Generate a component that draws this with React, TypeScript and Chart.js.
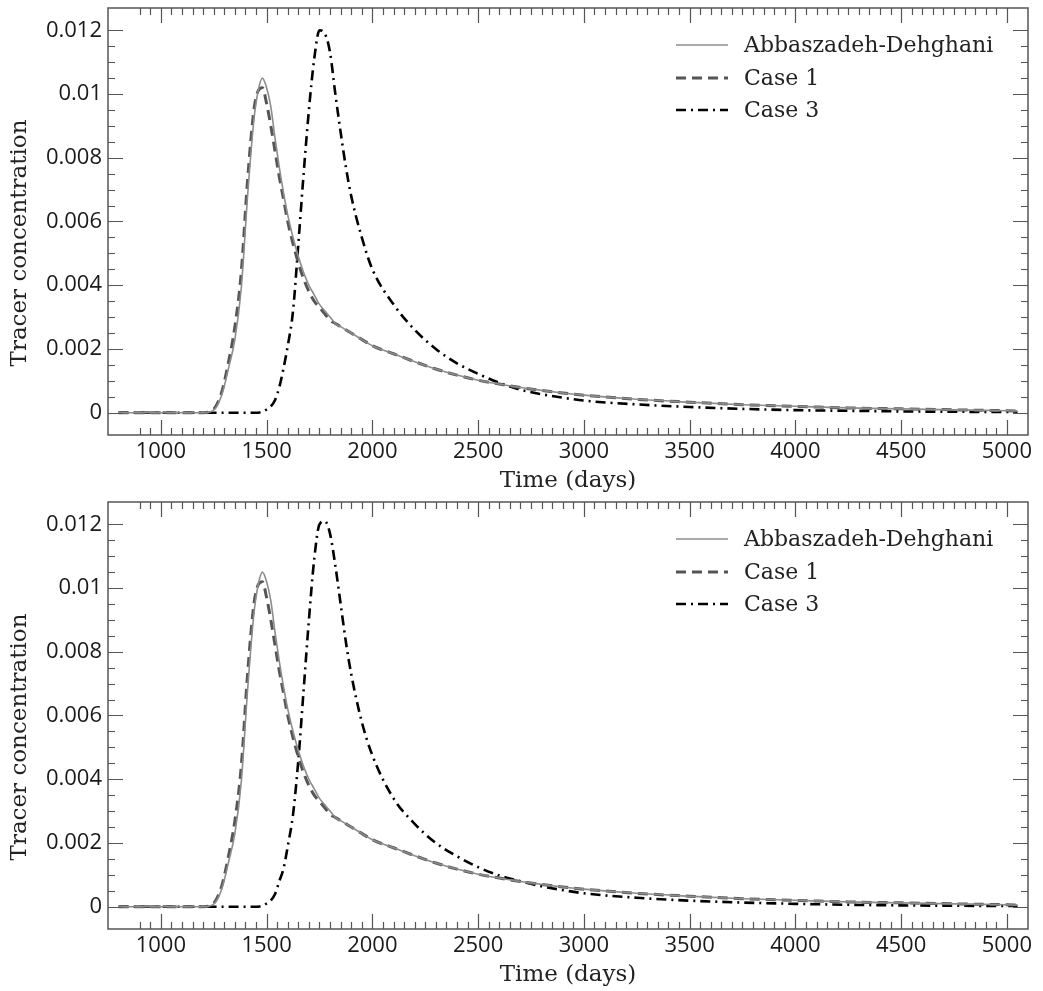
import React, { useEffect, useRef } from "react";
import { Chart, registerables } from "chart.js";
Chart.register(...registerables);

const days = [800, 900, 1000, 1100, 1200, 1230, 1260, 1290, 1320, 1350, 1380, 1410, 1440, 1460, 1480, 1500, 1520, 1540, 1560, 1580, 1600, 1625, 1650, 1675, 1700, 1725, 1750, 1775, 1800, 1825, 1850, 1875, 1900, 1950, 2000, 2100, 2200, 2300, 2400, 2500, 2600, 2700, 2800, 2900, 3000, 3250, 3500, 3750, 4000, 4250, 4500, 4750, 5000, 5050];

const abbasValues = [0, 0, 0, 0, 0, 0.00002, 0.00015, 0.0006, 0.0014, 0.0023, 0.0039, 0.0068, 0.0092, 0.0101, 0.0105, 0.0102, 0.0096, 0.0086, 0.0077, 0.0069, 0.0062, 0.0055, 0.0049, 0.0044, 0.004, 0.0037, 0.0034, 0.0032, 0.003, 0.0028, 0.0027, 0.0026, 0.0025, 0.0023, 0.0021, 0.00185, 0.0016, 0.00137, 0.00118, 0.00102, 0.0009, 0.00079, 0.0007, 0.00062, 0.00055, 0.00042, 0.00033, 0.00025, 0.0002, 0.00015, 0.00012, 0.00009, 0.00006, 0.00005];

const case1Values = [0, 0, 0, 0, 0, 0.00003, 0.0002, 0.0007, 0.0016, 0.0027, 0.0044, 0.0073, 0.0095, 0.0101, 0.0102, 0.0097, 0.009, 0.0082, 0.0074, 0.0067, 0.006, 0.0053, 0.0047, 0.0042, 0.0038, 0.0035, 0.0033, 0.0031, 0.0029, 0.0028, 0.0027, 0.0026, 0.0025, 0.0023, 0.0021, 0.00185, 0.0016, 0.00137, 0.00118, 0.00102, 0.0009, 0.00079, 0.0007, 0.00062, 0.00055, 0.00042, 0.00033, 0.00025, 0.0002, 0.00015, 0.00012, 0.00009, 0.00006, 0.00005];

const case3TopValues = [0, 0, 0, 0, 0, 0, 0, 0, 0, 0, 0, 0, 0, 0, 0.00003, 0.0001, 0.0002, 0.0004, 0.0008, 0.0014, 0.0021, 0.0032, 0.0053, 0.0075, 0.0095, 0.0111, 0.012, 0.0119, 0.0113, 0.01, 0.0088, 0.0077, 0.0068, 0.0055, 0.0045, 0.0034, 0.0026, 0.002, 0.00155, 0.00122, 0.00094, 0.00072, 0.00058, 0.00047, 0.00038, 0.00026, 0.00018, 0.00012, 0.00008, 0.00006, 0.00004, 0.00003, 0.00002, 0.00002];

const case3BottomValues = [0, 0, 0, 0, 0, 0, 0, 0, 0, 0, 0, 0, 0, 0, 0.00003, 0.0001, 0.0002, 0.0004, 0.0008, 0.0012, 0.0019, 0.0029, 0.0046, 0.0068, 0.009, 0.0109, 0.012, 0.0121, 0.0117, 0.0107, 0.0095, 0.0083, 0.0073, 0.0058, 0.00475, 0.0034, 0.0026, 0.002, 0.00158, 0.00124, 0.00098, 0.0008, 0.00064, 0.00052, 0.00042, 0.00028, 0.00019, 0.00013, 0.00009, 0.00006, 0.00004, 0.00003, 0.00002, 0.00002];

const xTickValues = [1000, 1500, 2000, 2500, 3000, 3500, 4000, 4500, 5000];
const yTickValues = [0, 0.002, 0.004, 0.006, 0.008, 0.01, 0.012];
const yTickLabels = ["0", "0.002", "0.004", "0.006", "0.008", "0.01", "0.012"];
const xTitle = "Time (days)";
const yTitle = "Tracer concentration";
const seriesLabels = ["Abbaszadeh-Dehghani", "Case 1", "Case 3"];

const seriesStyles = [
  { color: "#8c8c8c", width: 1.6, dash: [] as number[] },
  { color: "#555555", width: 3, dash: [10, 6] },
  { color: "#000000", width: 2.6, dash: [10, 5, 2, 5] },
];

const W = 1043;
const H = 494;

const framePlugin = {
  id: "frameTicks",
  afterDraw(chart: any) {
    const { ctx, chartArea, scales } = chart;
    const { left, right, top, bottom } = chartArea;
    const xs = scales.x;
    const ys = scales.y;
    ctx.save();
    ctx.strokeStyle = "#555";
    ctx.lineWidth = 1.5;
    ctx.setLineDash([]);
    ctx.strokeRect(left, top, right - left, bottom - top);
    ctx.lineWidth = 1.2;
    for (let v = 900; v <= 5000; v += 50) {
      const px = Math.round(xs.getPixelForValue(v)) + 0.5;
      const len = v % 500 === 0 ? 15 : 7;
      ctx.beginPath();
      ctx.moveTo(px, bottom);
      ctx.lineTo(px, bottom - len);
      ctx.moveTo(px, top);
      ctx.lineTo(px, top + len);
      ctx.stroke();
    }
    for (let i = 0; i <= 24; i++) {
      const py = Math.round(ys.getPixelForValue(i * 0.0005)) + 0.5;
      const len = i % 4 === 0 ? 15 : 7;
      ctx.beginPath();
      ctx.moveTo(left, py);
      ctx.lineTo(left + len, py);
      ctx.moveTo(right, py);
      ctx.lineTo(right - len, py);
      ctx.stroke();
    }
    // axis titles
    ctx.fillStyle = "#222";
    ctx.font = "23px 'DejaVu Serif'";
    ctx.textAlign = "center";
    ctx.textBaseline = "middle";
    ctx.fillText(xTitle, (left + right) / 2, bottom + 46);
    ctx.save();
    ctx.translate(20, 243);
    ctx.rotate(-Math.PI / 2);
    ctx.fillText(yTitle, 0, 0);
    ctx.restore();
    // legend
    ctx.font = "22px 'DejaVu Serif'";
    ctx.textAlign = "left";
    const rows = [37, 70, 102];
    seriesLabels.forEach((lab, i) => {
      const st = seriesStyles[i];
      const y = top + rows[i];
      ctx.strokeStyle = st.color;
      ctx.lineWidth = st.width;
      ctx.setLineDash(st.dash);
      ctx.beginPath();
      ctx.moveTo(right - 352, y);
      ctx.lineTo(right - 300, y);
      ctx.stroke();
      ctx.setLineDash([]);
      ctx.fillText(lab, right - 284, y + 1);
    });
    ctx.restore();
  },
};

function Panel({ case3 }: { case3: number[] }) {
  const ref = useRef<HTMLCanvasElement | null>(null);
  useEffect(() => {
    if (!ref.current) return;
    const series = [abbasValues, case1Values, case3];
    const chart = new Chart(ref.current, {
      type: "line",
      data: {
        datasets: series.map((vals, i) => ({
          label: seriesLabels[i],
          data: days.map((d, j) => ({ x: d, y: vals[j] })),
          borderColor: seriesStyles[i].color,
          borderWidth: seriesStyles[i].width,
          borderDash: seriesStyles[i].dash,
          pointRadius: 0,
          fill: false,
          cubicInterpolationMode: "monotone" as const,
        })),
      },
      options: {
        responsive: false,
        animation: false,
        devicePixelRatio: 1,
        layout: { padding: { top: 8, right: 15, left: 0, bottom: 0 } },
        plugins: { legend: { display: false }, tooltip: { enabled: false } },
        scales: {
          x: {
            type: "linear",
            min: 750,
            max: 5100,
            afterBuildTicks: (s: any) => {
              s.ticks = xTickValues.map((v) => ({ value: v }));
            },
            afterFit: (s: any) => {
              s.height = 59;
              s.paddingLeft = 0;
              s.paddingRight = 0;
            },
            ticks: {
              autoSkip: false,
              maxRotation: 0,
              padding: 4,
              color: "#1a1a1a",
              font: { family: "'Open Sans'", size: 22 },
              callback: (v: any) => String(v),
            },
            grid: { display: false, drawTicks: false },
            border: { display: false },
          },
          y: {
            type: "linear",
            min: -0.0007,
            max: 0.0127,
            afterBuildTicks: (s: any) => {
              s.ticks = yTickValues.map((v) => ({ value: v }));
            },
            afterFit: (s: any) => {
              s.width = 108;
              s.paddingTop = 0;
              s.paddingBottom = 0;
            },
            ticks: {
              autoSkip: false,
              padding: 6,
              color: "#1a1a1a",
              font: { family: "'Open Sans'", size: 22 },
              callback: (_v: any, i: number) => yTickLabels[i],
            },
            grid: { display: false, drawTicks: false },
            border: { display: false },
          },
        },
      },
      plugins: [framePlugin],
    });
    return () => chart.destroy();
  }, [case3]);
  return <canvas ref={ref} width={W} height={H} style={{ display: "block", width: W, height: H }} />;
}

export default function App() {
  return (
    <div style={{ position: "absolute", left: 0, top: 0, width: W, height: 2 * H, background: "#fff" }}>
      <Panel case3={case3TopValues} />
      <Panel case3={case3BottomValues} />
    </div>
  );
}
